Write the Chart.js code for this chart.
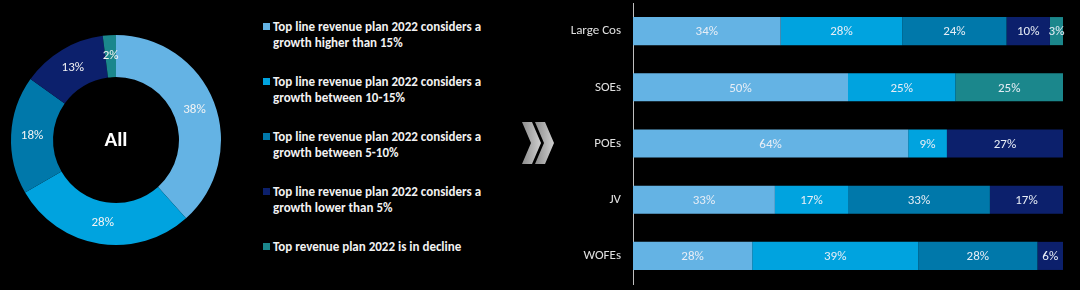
<!DOCTYPE html>
<html>
<head>
<meta charset="utf-8">
<script src="https://cdn.jsdelivr.net/npm/chart.js@4/dist/chart.umd.min.js"></script>
<style>
  html, body { margin: 0; padding: 0; background: #000; }
  body { width: 1080px; height: 290px; position: relative; overflow: hidden; font-family: Carlito, Lato, sans-serif; }
  #donut-wrap { position: absolute; left: 0; top: 0; width: 235px; height: 290px; }
  #bars-wrap { position: absolute; left: 560px; top: 0; width: 520px; height: 290px; }
  #legend { position: absolute; left: 263px; top: 19px; width: 260px; }
  .leg-item { display: flex; align-items: flex-start; height: 55px; color: #f2f2f2; font-weight: 700; font-size: 13px; line-height: 15.5px; }
  .leg-box { width: 7px; height: 7px; margin-top: 4px; margin-right: 3px; flex: none; }
  #arrow { position: absolute; left: 520px; top: 120px; }
</style>
</head>
<body>
<div id="donut-wrap"><canvas id="donut"></canvas></div>
<div id="legend"></div>
<svg id="arrow" width="40" height="48" viewBox="0 0 40 48">
  <defs>
    <linearGradient id="g" x1="0" x2="1" y1="0" y2="0">
      <stop offset="0" stop-color="#8c8c8c"/><stop offset="1" stop-color="#d0d0d0"/>
    </linearGradient>
  </defs>
  <polygon points="2,2 12,2 21,23 12,44 2,44 11,23" fill="url(#g)"/>
  <polygon points="15,2 25,2 34,23 25,44 15,44 24,23" fill="url(#g)"/>
</svg>
<div id="bars-wrap"><canvas id="bars"></canvas></div>
<script>
// ── dados ──
const seriesNames = [
  'Top line revenue plan 2022 considers a growth higher than 15%',
  'Top line revenue plan 2022 considers a growth between 10-15%',
  'Top line revenue plan 2022 considers a growth between 5-10%',
  'Top line revenue plan 2022 considers a growth lower than 5%',
  'Top revenue plan 2022 is in decline'
];
const colors = ['#64B3E4', '#00A3DF', '#0078AA', '#0C206C', '#1B878C'];
const allValues = [38, 28, 18, 13, 2];

const companies = ['Large Cos', 'SOEs', 'POEs', 'JV', 'WOFEs'];
const above15 = [34, 50, 64, 33, 28];
const between10_15 = [28, 25, 9, 17, 39];
const between5_10 = [24, 0, 0, 33, 28];
const below5 = [10, 0, 27, 17, 6];
const decline = [3, 25, 0, 0, 0];
const barSeries = [above15, between10_15, between5_10, below5, decline];

const FONT = 'Carlito, Lato, sans-serif';

// ── legenda ──
const legend = document.getElementById('legend');
legend.innerHTML = seriesNames.map((n, i) => {
  const br = n.replace(' considers a ', ' considers a<br>');
  return `<div class="leg-item"><span class="leg-box" style="background:${colors[i]}"></span><span>${br}</span></div>`;
}).join('');

// ── rosca ──
const donutLabels = {
  id: 'donutLabels',
  afterDatasetsDraw(chart) {
    const ctx = chart.ctx;
    const meta = chart.getDatasetMeta(0);
    ctx.save();
    ctx.fillStyle = '#f4f4f4';
    ctx.font = `13px ${FONT}`;
    ctx.textAlign = 'center';
    ctx.textBaseline = 'middle';
    meta.data.forEach((arc, i) => {
      const p = arc.getCenterPoint();
      ctx.fillText(allValues[i] + '%', p.x, p.y);
    });
    const a = meta.data[0];
    ctx.font = `bold 21px ${FONT}`;
    ctx.fillStyle = '#ffffff';
    ctx.fillText('All', a.x, a.y + 1);
    ctx.restore();
  }
};

new Chart(document.getElementById('donut'), {
  type: 'doughnut',
  data: { labels: seriesNames, datasets: [{ data: allValues, backgroundColor: colors, borderWidth: 0 }] },
  options: {
    responsive: true, maintainAspectRatio: false, animation: false,
    cutout: '60%',
    layout: { padding: { left: 11, top: 35, right: 14, bottom: 45 } },
    plugins: { legend: { display: false }, tooltip: { enabled: false } }
  },
  plugins: [donutLabels]
});

// ── barras empilhadas 100% ──
const totals = companies.map((c, j) => barSeries.reduce((s, arr) => s + arr[j], 0));

const barLabels = {
  id: 'barLabels',
  afterDatasetsDraw(chart) {
    const ctx = chart.ctx;
    ctx.save();
    ctx.fillStyle = '#e8eef6';
    ctx.font = `13px ${FONT}`;
    ctx.textAlign = 'center';
    ctx.textBaseline = 'middle';
    chart.data.datasets.forEach((ds, i) => {
      chart.getDatasetMeta(i).data.forEach((bar, j) => {
        const v = barSeries[i][j];
        if (!v) return;
        ctx.fillText(v + '%', (bar.x + bar.base) / 2, bar.y + 1);
      });
    });
    ctx.restore();
  }
};

new Chart(document.getElementById('bars'), {
  type: 'bar',
  data: {
    labels: companies,
    datasets: barSeries.map((arr, i) => ({
      label: seriesNames[i],
      data: arr.map((v, j) => v / totals[j] * 100),
      backgroundColor: colors[i],
      borderWidth: 0,
      barPercentage: 1,
      categoryPercentage: 0.5
    }))
  },
  options: {
    indexAxis: 'y',
    responsive: true, maintainAspectRatio: false, animation: false,
    layout: { padding: { top: 3, right: 17, bottom: 6, left: 0 } },
    scales: {
      x: { stacked: true, min: 0, max: 100, display: false },
      y: {
        stacked: true,
        grid: { display: false, drawTicks: false },
        border: { display: true, color: '#bfbfbf', width: 1 },
        ticks: { color: '#e0e0e0', font: { family: FONT, size: 13 }, padding: 12 },
        afterFit(scale) { scale.width = 73; scale.paddingTop = 0; scale.paddingBottom = 0; }
      }
    },
    plugins: { legend: { display: false }, tooltip: { enabled: false } }
  },
  plugins: [barLabels]
});
</script>
</body>
</html>
